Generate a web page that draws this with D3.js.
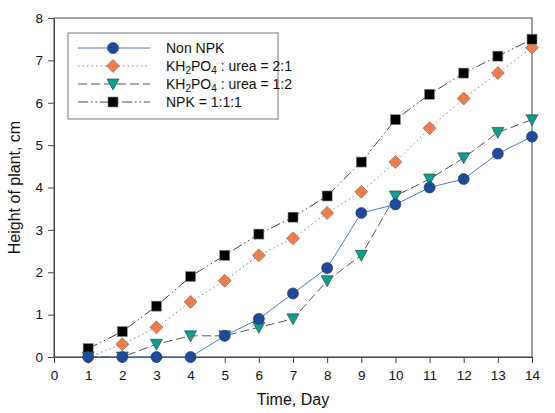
<!DOCTYPE html>
<html>
<head>
<meta charset="utf-8">
<script src="https://cdn.jsdelivr.net/npm/d3@7"></script>
<style>
body { margin: 0; background: #fff; }
text { font-family: Arial, "Liberation Sans", sans-serif; }
</style>
</head>
<body>
<script>
// data
const days = [1, 2, 3, 4, 5, 6, 7, 8, 9, 10, 11, 12, 13, 14]
const nonNPK = [0, 0, 0, 0, 0.5, 0.9, 1.5, 2.1, 3.4, 3.6, 4.0, 4.2, 4.8, 5.2]
const kh21 = [0, 0.3, 0.7, 1.3, 1.8, 2.4, 2.8, 3.4, 3.9, 4.6, 5.4, 6.1, 6.7, 7.3]
const kh12 = [0, 0, 0.3, 0.5, 0.5, 0.7, 0.9, 1.8, 2.4, 3.8, 4.2, 4.7, 5.3, 5.6]
const npk = [0.2, 0.6, 1.2, 1.9, 2.4, 2.9, 3.3, 3.8, 4.6, 5.6, 6.2, 6.7, 7.1, 7.5]
const xTicks = d3.range(0, 15)
const yTicks = d3.range(0, 9)

const WIDTH = 555
const HEIGHT = 413
const plotL = 54, plotR = 532, plotT = 18, plotB = 357

const svg = d3.select("body").append("svg")
    .attr("width", WIDTH)
    .attr("height", HEIGHT)

const x = d3.scaleLinear().domain([0, 14]).range([plotL, plotR])
const y = d3.scaleLinear().domain([0, 8]).range([plotB, plotT])

// frame
svg.append("rect")
    .attr("x", plotL).attr("y", plotT)
    .attr("width", plotR - plotL).attr("height", plotB - plotT)
    .attr("fill", "none").attr("stroke", "#444").attr("stroke-width", 1)

const xAxis = svg.append("g")
    .attr("transform", `translate(0,${plotB})`)
    .call(d3.axisBottom(x).tickValues(xTicks).tickSize(6).tickPadding(7))
const yAxis = svg.append("g")
    .attr("transform", `translate(${plotL},0)`)
    .call(d3.axisLeft(y).tickValues(yTicks).tickSize(6).tickPadding(5))

for (const ax of [xAxis, yAxis]) {
    ax.select(".domain").attr("stroke", "#444")
    ax.selectAll(".tick line").attr("stroke", "#444")
    ax.selectAll(".tick text")
        .attr("fill", "#111")
        .style("font-size", "13.5px")
        .style("font-family", "Arial, 'Liberation Sans', sans-serif")
}

svg.append("text")
    .attr("x", (plotL + plotR) / 2).attr("y", 405)
    .attr("text-anchor", "middle")
    .style("font-size", "16px")
    .attr("fill", "#111")
    .text("Time, Day")

svg.append("text")
    .attr("transform", `translate(20,${(plotT + plotB) / 2}) rotate(-90)`)
    .attr("text-anchor", "middle")
    .style("font-size", "16px")
    .attr("fill", "#111")
    .text("Height of plant, cm")

const series = [
    { name: "Non NPK", values: nonNPK, line: "#4a7fd0", dash: null, shape: "circle", fill: "#1c4a9c" },
    { name: "KH2PO4 : urea = 2:1", values: kh21, line: "#888", dash: "1.5,3", shape: "diamond", fill: "#f07c4a" },
    { name: "KH2PO4 : urea = 1:2", values: kh12, line: "#555", dash: "9,4", shape: "triangleDown", fill: "#07a08e" },
    { name: "NPK = 1:1:1", values: npk, line: "#444", dash: "10,3,1.5,3,1.5,3", shape: "square", fill: "#000" }
]

function drawMarker(g, s, cx, cy) {
    if (s.shape === "circle") {
        g.append("circle").attr("cx", cx).attr("cy", cy).attr("r", 5.5)
            .attr("fill", s.fill).attr("stroke", "#333").attr("stroke-width", 0.6)
    } else if (s.shape === "square") {
        g.append("rect").attr("x", cx - 5).attr("y", cy - 5).attr("width", 10).attr("height", 10)
            .attr("fill", s.fill).attr("stroke", "#888").attr("stroke-width", 0.6)
    } else if (s.shape === "diamond") {
        const r = 6.5
        g.append("polygon")
            .attr("points", [[cx, cy - r], [cx + r, cy], [cx, cy + r], [cx - r, cy]].join(" "))
            .attr("fill", s.fill).attr("stroke", "#666").attr("stroke-width", 0.6)
    } else {
        g.append("polygon")
            .attr("points", [[cx - 6, cy - 5], [cx + 6, cy - 5], [cx, cy + 6]].join(" "))
            .attr("fill", s.fill).attr("stroke", "#333").attr("stroke-width", 0.6)
    }
}

const line = d3.line().x(d => x(d[0])).y(d => y(d[1]))

// lines first, then markers on top
for (const s of series) {
    const pts = days.map((d, i) => [d, s.values[i]])
    svg.append("path")
        .attr("d", line(pts))
        .attr("fill", "none")
        .attr("stroke", s.line)
        .attr("stroke-width", 1)
        .attr("stroke-dasharray", s.dash)
}
for (const s of [series[1], series[3], series[2], series[0]]) {
    const g = svg.append("g")
    days.forEach((d, i) => drawMarker(g, s, x(d), y(s.values[i])))
}

// legend
const leg = svg.append("g")
leg.append("rect")
    .attr("x", 68).attr("y", 33).attr("width", 210).attr("height", 86)
    .attr("fill", "#fff").attr("stroke", "#777").attr("stroke-width", 1)

const rowY = [48, 66, 84, 102]
series.forEach((s, i) => {
    const ry = rowY[i]
    leg.append("line")
        .attr("x1", 78).attr("x2", 150).attr("y1", ry).attr("y2", ry)
        .attr("stroke", s.line).attr("stroke-width", 1)
        .attr("stroke-dasharray", s.dash)
    drawMarker(leg, s, 113, ry)
    const t = leg.append("text")
        .attr("x", 166).attr("y", ry + 5)
        .style("font-size", "14px")
        .attr("fill", "#111")
    if (i === 1 || i === 2) {
        t.append("tspan").text("KH")
        t.append("tspan").attr("dy", 3).style("font-size", "10px").text("2")
        t.append("tspan").attr("dy", -3).text("PO")
        t.append("tspan").attr("dy", 3).style("font-size", "10px").text("4")
        t.append("tspan").attr("dy", -3).text(i === 1 ? " : urea = 2:1" : " : urea = 1:2")
    } else {
        t.text(s.name)
    }
})
</script>
</body>
</html>
